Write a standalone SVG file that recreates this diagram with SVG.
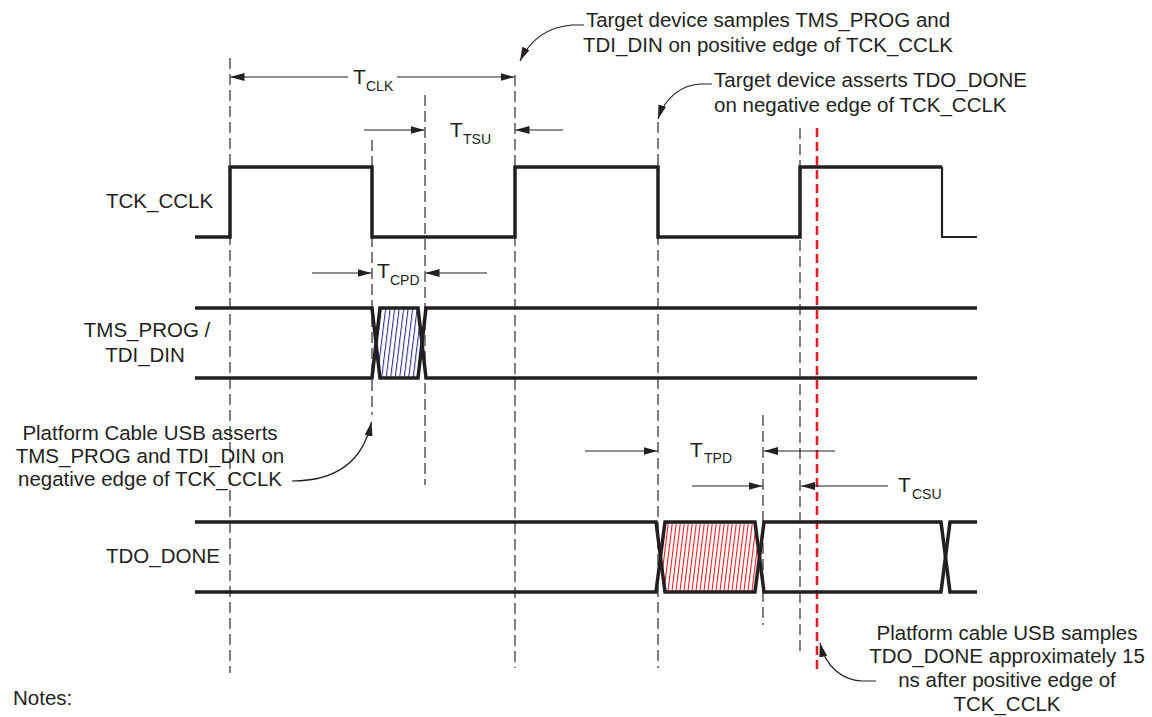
<svg xmlns="http://www.w3.org/2000/svg" width="1152" height="717" viewBox="0 0 1152 717">
<defs>
<style>
.t{font-family:"Liberation Sans",Arial,sans-serif;font-size:20.5px;fill:#231f20}
.tb{font-family:"Liberation Sans",Arial,sans-serif;font-size:21px;fill:#231f20}
.ts{font-family:"Liberation Sans",Arial,sans-serif;font-size:14px;fill:#231f20}
.sig{fill:none;stroke:#231f20;stroke-width:3.5;stroke-linejoin:miter}
.dash{stroke:#3c3c3c;stroke-width:1.3;stroke-dasharray:11 5;fill:none}
.red{stroke:#e31e25;stroke-width:2.6;stroke-dasharray:9 5;fill:none}
.arr{stroke:#231f20;stroke-width:1.2;fill:none;marker-end:url(#ah)}
</style>
<marker id="ah" viewBox="0 0 14 8" refX="14" refY="4" markerWidth="14" markerHeight="8" markerUnits="userSpaceOnUse" orient="auto"><path d="M0,0 L14,4 L0,8 Z" fill="#231f20"/></marker>
<pattern id="hb" patternUnits="userSpaceOnUse" width="4.5" height="10" patternTransform="skewX(-7)"><rect x="0" y="0" width="1.1" height="10" fill="#2e3192"/></pattern>
<pattern id="hr" patternUnits="userSpaceOnUse" width="4" height="10" patternTransform="skewX(-7)"><rect x="0" y="0" width="1.1" height="10" fill="#ed1c24"/></pattern>
</defs>
<rect width="1152" height="717" fill="#ffffff"/>

<g id="guides">
<line class="dash" x1="230" y1="58" x2="230" y2="673"/>
<line class="dash" x1="372" y1="140" x2="372" y2="415"/>
<line class="dash" x1="425" y1="95" x2="425" y2="485"/>
<line class="dash" x1="515" y1="75" x2="515" y2="668"/>
<line class="dash" x1="658" y1="122" x2="658" y2="668"/>
<line class="dash" x1="763" y1="415" x2="763" y2="625"/>
<line class="dash" x1="800" y1="128" x2="800" y2="653"/>
<line class="red" x1="817" y1="128" x2="817" y2="673"/>
</g>

<g id="tck_cclk">
<text class="t" x="106" y="208">TCK_CCLK</text>
<path class="sig" d="M195,237 H230 V167 H372 V237 H515 V167 H658 V237 H800 V167 H942"/>
<path fill="none" stroke="#231f20" stroke-width="2.2" d="M942,167 V237 H977"/>
</g>

<g id="tms_prog">
<text class="t" x="147" y="337" text-anchor="middle">TMS_PROG /</text>
<text class="t" x="145" y="362" text-anchor="middle">TDI_DIN</text>
<polygon points="376,343 380,308 418,308 422,343 418,378 380,378" fill="url(#hb)"/>
<path class="sig" d="M195,308 H372 L380,378 H418 L426,308 H977"/>
<path class="sig" d="M195,378 H372 L380,308 H418 L426,378 H977"/>
</g>

<g id="tdo_done">
<text class="t" x="106" y="563">TDO_DONE</text>
<polygon points="661,557 665,522 755,522 759,557 755,592 665,592" fill="url(#hr)"/>
<path class="sig" d="M195,522 H656 L665,592 H755 L764,522 H941 L950,592 H977"/>
<path class="sig" d="M195,592 H656 L665,522 H755 L764,592 H941 L950,522 H977"/>
</g>

<g id="timing_labels">
<text class="tb" x="353" y="84">T</text><text class="ts" x="366" y="91">CLK</text>
<text class="tb" x="450" y="137">T</text><text class="ts" x="463" y="144">TSU</text>
<text class="tb" x="377" y="278">T</text><text class="ts" x="390" y="285">CPD</text>
<text class="tb" x="690" y="457">T</text><text class="ts" x="704" y="463">TPD</text>
<text class="tb" x="898" y="492">T</text><text class="ts" x="912" y="499">CSU</text>
</g>

<g id="note_samples">
<text class="t" x="768" y="27" text-anchor="middle">Target device samples TMS_PROG and</text>
<text class="t" x="768" y="52" text-anchor="middle">TDI_DIN on positive edge of TCK_CCLK</text>
</g>
<g id="note_asserts_tdo">
<text class="t" x="714" y="87">Target device asserts TDO_DONE</text>
<text class="t" x="714" y="112">on negative edge of TCK_CCLK</text>
</g>
<g id="note_cable_asserts">
<text class="t" x="150" y="440" text-anchor="middle">Platform Cable USB asserts</text>
<text class="t" x="150" y="463" text-anchor="middle">TMS_PROG and TDI_DIN on</text>
<text class="t" x="150" y="486" text-anchor="middle">negative edge of TCK_CCLK</text>
</g>
<g id="note_cable_samples">
<text class="t" x="1007" y="640" text-anchor="middle">Platform cable USB samples</text>
<text class="t" x="1007" y="663" text-anchor="middle">TDO_DONE approximately 15</text>
<text class="t" x="1007" y="687" text-anchor="middle">ns after positive edge of</text>
<text class="t" x="1007" y="711" text-anchor="middle">TCK_CCLK</text>
</g>
<g id="notes">
<text class="t" x="13" y="705">Notes:</text>
</g>

<g id="connectors">
<line class="arr" x1="348" y1="77" x2="230.5" y2="77"/>
<line class="arr" x1="397" y1="77" x2="514.5" y2="77"/>
<line class="arr" x1="364" y1="130" x2="424.5" y2="130"/>
<line class="arr" x1="563" y1="130" x2="515.5" y2="130"/>
<line class="arr" x1="312" y1="273" x2="371.5" y2="273"/>
<line class="arr" x1="487" y1="273" x2="425.5" y2="273"/>
<line class="arr" x1="585" y1="451" x2="657.5" y2="451"/>
<line class="arr" x1="835" y1="451" x2="764" y2="451"/>
<line class="arr" x1="692" y1="486" x2="762.5" y2="486"/>
<line class="arr" x1="888" y1="486" x2="801" y2="486"/>
<path class="arr" d="M584,25 L572,25 C548,27 530,40 520,61"/>
<path class="arr" d="M712,84 L700,84 C682,85 665,97 658,119"/>
<path class="arr" d="M292,481 C330,481 362,466 371.5,422"/>
<path class="arr" d="M876,681 L862,681 C843,680 826,668 820,643"/>
</g>
</svg>
